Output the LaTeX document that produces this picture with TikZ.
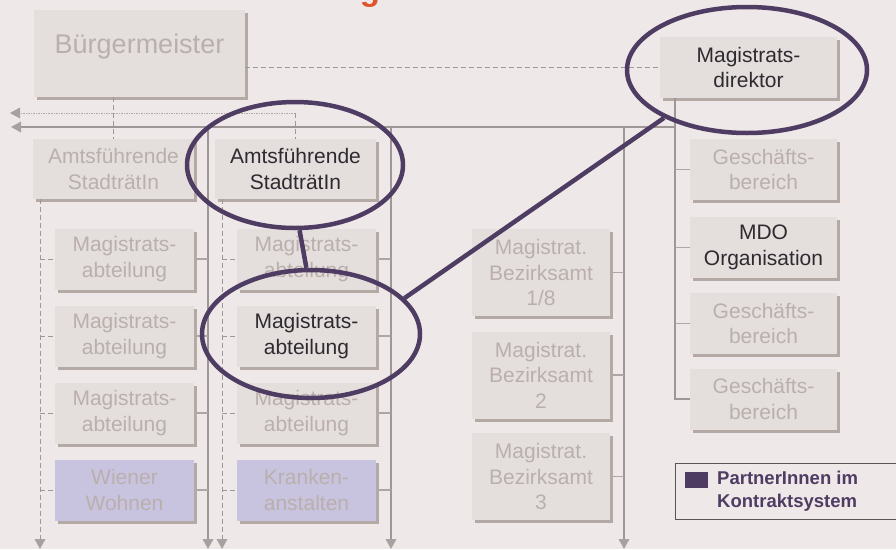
\documentclass[tikz,border=0pt]{standalone}
\usepackage{fontspec}
\setmainfont{Liberation Sans}
\usetikzlibrary{shapes.geometric,arrows.meta,shadows}
\definecolor{bgc}{HTML}{EEE8E8}
\definecolor{boxc}{HTML}{E4DFDD}
\definecolor{shadc}{HTML}{B4A9A5}
\definecolor{fadec}{HTML}{BAAFAC}
\definecolor{darkc}{HTML}{2E2A30}
\definecolor{linec}{HTML}{9F9696}
\definecolor{purpc}{HTML}{C8C4E0}
\definecolor{inkc}{HTML}{4E3C63}
\definecolor{orc}{HTML}{E0542C}
\tikzset{
  orgbox/.style={rectangle, fill=boxc, inner sep=0pt, align=center,
    font=\fontsize{21}{25.5}\selectfont, text=fadec,
    drop shadow={shadow xshift=3pt, shadow yshift=-3pt, fill=shadc, opacity=1}},
  active/.style={text=darkc},
  partner/.style={fill=purpc},
  colbox/.style={orgbox, minimum width=139pt, minimum height=61pt},
  bezbox/.style={orgbox, minimum width=138pt, minimum height=87pt},
  gesbox/.style={orgbox, minimum width=147pt, minimum height=61pt},
  amtbox/.style={orgbox, minimum width=161pt, minimum height=60pt},
  trunk/.style={draw=linec, line width=1.8pt},
  twig/.style={draw=linec!85, line width=1.3pt},
  dashtrunk/.style={draw=linec, line width=1pt, dash pattern=on 5pt off 3pt},
  dottrunk/.style={draw=linec!80, line width=0.9pt, dash pattern=on 1.5pt off 1pt},
  tip/.style={-{Triangle[width=11pt,length=10pt,color=linec!90,fill=linec!90,line width=0pt]}},
  ring/.style={ellipse, draw=inkc, line width=4.5pt, inner sep=0pt},
  inkline/.style={draw=inkc, line width=4.5pt},
}
\begin{document}
\begin{tikzpicture}[x=1pt,y=-1pt]
\useasboundingbox[fill=bgc] (0,0) rectangle (896,549);

% cut-off title glyph
\node[anchor=base, text=orc, font=\fontsize{33}{33}\selectfont\bfseries, inner sep=0pt] (title) at (370,0) {g};

% coordinates for line ends
\coordinate (lA) at (10,113);
\coordinate (lB) at (11,127);
\coordinate (jA) at (295,113);
\coordinate (j1) at (208,127);
\coordinate (j2) at (391,127);
\coordinate (j3) at (624,127);
\coordinate (j4) at (675,127);
\coordinate (b1) at (208,549);
\coordinate (b2) at (391,549);
\coordinate (b3) at (624,549);
\coordinate (d1) at (40,549);
\coordinate (d2) at (222,549);

% boxes
\node[orgbox, minimum width=211pt, minimum height=87pt, font=\fontsize{27}{30}\selectfont, text height=19.5pt, text depth=20.5pt] (bm) at (139.5,53.5) {Bürgermeister};
\node[orgbox, active, minimum width=177pt, minimum height=61pt] (md) at (748.5,67.5) {Magistrats-\\direktor};

\node[amtbox] (amt1) at (113.5,169) {Amtsführende\\StadträtIn};
\node[amtbox, active] (amt2) at (295.5,169) {Amtsführende\\StadträtIn};

\node[colbox] (a1) at (124.5,259) {Magistrats-\\abteilung};
\node[colbox] (a2) at (124.5,336) {Magistrats-\\abteilung};
\node[colbox] (a3) at (124.5,413) {Magistrats-\\abteilung};
\node[colbox, partner] (a4) at (124.5,490) {Wiener\\Wohnen};

\node[colbox] (c1) at (306.5,259) {Magistrats-\\abteilung};
\node[colbox, active] (c2) at (306.5,336) {Magistrats-\\abteilung};
\node[colbox] (c3) at (306.5,413) {Magistrats-\\abteilung};
\node[colbox, partner] (c4) at (306.5,490) {Kranken-\\anstalten};

\node[bezbox] (z1) at (541,272.5) {Magistrat.\\Bezirksamt\\1/8};
\node[bezbox] (z2) at (541,375) {Magistrat.\\Bezirksamt\\2};
\node[bezbox] (z3) at (541,476.5) {Magistrat.\\Bezirksamt\\3};

\node[gesbox] (g1) at (763.5,169.5) {Geschäfts-\\bereich};
\node[gesbox, active] (g2) at (763.5,247.5) {MDO\\Organisation};
\node[gesbox] (g3) at (763.5,323.5) {Geschäfts-\\bereich};
\node[gesbox] (g4) at (763.5,399) {Geschäfts-\\bereich};

% connectors
\draw[dashtrunk] (bm.east |- md.west) -- (md.west);
\draw[dashtrunk] (amt1.north |- bm.south) -- (amt1.north);
\draw[dashtrunk] (jA) -- (amt2.north -| jA);
\draw[dottrunk, tip] (jA) -- (lA);
\draw[trunk, tip] (j4) -- (lB);
\draw[trunk] (md.south -| j4) -- (g4.west -| j4) -- (g4.west);
\foreach \g in {g1,g2,g3} \draw[twig] (\g.west -| j4) -- (\g.west);
\draw[trunk, tip] (j1) -- (b1);
\draw[trunk, tip] (j2) -- (b2);
\draw[trunk, tip] (j3) -- (b3);
\draw[dashtrunk, tip] (amt1.south -| d1) -- (d1);
\draw[dashtrunk, tip] (amt2.south -| d2) -- (d2);
\foreach \a in {a1,a2,a3,a4} {
  \draw[dashtrunk] (\a.west -| d1) -- (\a.west);
  \draw[twig] ([xshift=3pt]\a.east) -- (\a.east -| j1);
}
\foreach \c in {c1,c2,c3,c4} {
  \draw[dashtrunk] (\c.west -| d2) -- (\c.west);
  \draw[twig] ([xshift=3pt]\c.east) -- (\c.east -| j2);
}
\foreach \z in {z1,z2,z3} \draw[twig] ([xshift=3pt]\z.east) -- (\z.east -| j3);

% highlight rings
\node[ring, minimum width=240pt, minimum height=126pt] (e1) at (747,70) {};
\node[ring, minimum width=216pt, minimum height=126pt] (e2) at (295,165) {};
\node[ring, minimum width=218pt, minimum height=128pt] (e3) at (311,334) {};
\draw[inkline] (e1.210) -- (e3.21);
\draw[inkline] (e2.274) -- (e3.94);

% legend
\node[draw=darkc!80, line width=0.9pt, rectangle, minimum width=230pt, minimum height=56pt, anchor=north west, inner sep=0pt] (leg) at (675,463) {};
\node[fill=inkc, minimum width=23pt, minimum height=16pt, inner sep=0pt, anchor=north west] (legsq) at (685,472) {};
\node[anchor=west, align=left, text=inkc, font=\fontsize{18.5}{22.5}\selectfont\bfseries, inner sep=0pt] (legt) at (717,491) {PartnerInnen im\\Kontraktsystem};
\end{tikzpicture}
\end{document}
